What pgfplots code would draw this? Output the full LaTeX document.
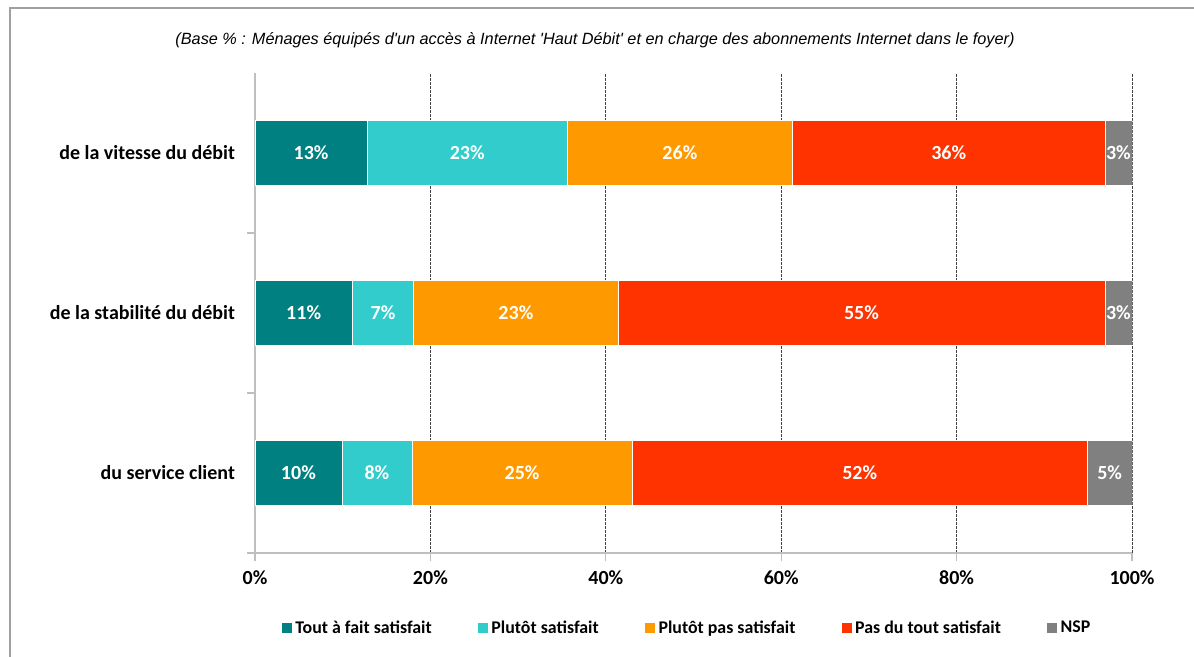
\documentclass[border=0pt]{standalone}
\usepackage{pgfplots}
\pgfplotsset{compat=1.18}
\usepackage{fontspec}
\setmainfont{Carlito}
\newfontfamily\arialfont{Liberation Sans}
\definecolor{c1}{HTML}{008080}
\definecolor{c2}{HTML}{33CCCC}
\definecolor{c3}{HTML}{FF9900}
\definecolor{c4}{HTML}{FF3300}
\definecolor{c5}{HTML}{808080}
\definecolor{axgray}{HTML}{BFBFBF}
\definecolor{framegray}{HTML}{A0A0A0}
\begin{document}
\begin{tikzpicture}[x=0.75pt,y=0.75pt]
\useasboundingbox (0,0) rectangle (1194,656);
\fill[white] (0,0) rectangle (1194,656);
\draw[framegray, line width=1.5pt] (10,-5) -- (10,648) -- (1200,648);
\node[font=\arialfont\itshape\fontsize{12.2}{14}\selectfont] at (595,616) {(Base \% : Ménages équipés d'un accès à Internet 'Haut Débit' et en charge des abonnements Internet dans le foyer)};
\begin{axis}[
  at={(191.25pt,77.25pt)}, anchor=south west,
  scale only axis, width=657.75pt, height=360pt,
  xbar stacked, bar width=48.75pt,
  xmin=0, xmax=100, ymin=0.5, ymax=3.5,
  axis x line*=bottom, axis y line*=left,
  axis line style={-, axgray, line width=1.5pt},
  tick align=outside,
  major tick length=6pt,
  tick style={axgray, line width=1pt},
  xtick={0,20,40,60,80,100},
  xticklabels={0\%,20\%,40\%,60\%,80\%,100\%},
  xticklabel style={font=\bfseries\fontsize{15}{18}\selectfont, yshift=-4pt},
  ytick={0.5,1.5,2.5},
  yticklabels={},
  extra y ticks={1,2,3},
  extra y tick labels={du service client, de la stabilité du débit, de la vitesse du débit},
  extra y tick style={major tick length=0pt, yticklabel style={font=\bfseries\fontsize{15}{18}\selectfont, xshift=-11.5pt}},
  xmajorgrids,
  major x grid style={dash pattern=on 2pt off 1pt, black!75, line width=0.6pt},
  /pgf/number format/assume math mode=true,
  point meta=explicit symbolic,
  nodes near coords,
  every node near coord/.append style={anchor=center, text=white, font=\bfseries\fontsize{15}{18}\selectfont},
  legend columns=5,
  legend style={at={(0.4926,-0.156)}, anchor=center, draw=none, fill=none,
    font=\bfseries\fontsize{13.4}{15}\selectfont,
    /tikz/every even column/.append style={column sep=32pt},
    /tikz/every odd column/.append style={column sep=0pt}},
  legend image code/.code={\fill[#1] (0pt,-4.2pt) rectangle (8.4pt,4.2pt);},
]
\addplot[fill=c1, draw=white, line width=0.4pt] coordinates {(9.9,1) [10\%] (11.1,2) [11\%] (12.8,3) [13\%]};
\addplot[fill=c2, draw=white, line width=0.4pt] coordinates {(8.0,1) [8\%] (7.0,2) [7\%] (22.8,3) [23\%]};
\addplot[fill=c3, draw=white, line width=0.4pt] coordinates {(25.1,1) [25\%] (23.3,2) [23\%] (25.7,3) [26\%]};
\addplot[fill=c4, draw=white, line width=0.4pt] coordinates {(51.9,1) [52\%] (55.5,2) [55\%] (35.6,3) [36\%]};
\addplot[fill=c5, draw=white, line width=0.4pt] coordinates {(5.1,1) [5\%] (3.1,2) [3\%] (3.1,3) [3\%]};
\legend{Tout à fait satisfait, Plutôt satisfait, Plutôt pas satisfait, Pas du tout satisfait, NSP}
\end{axis}
\end{tikzpicture}
\end{document}
